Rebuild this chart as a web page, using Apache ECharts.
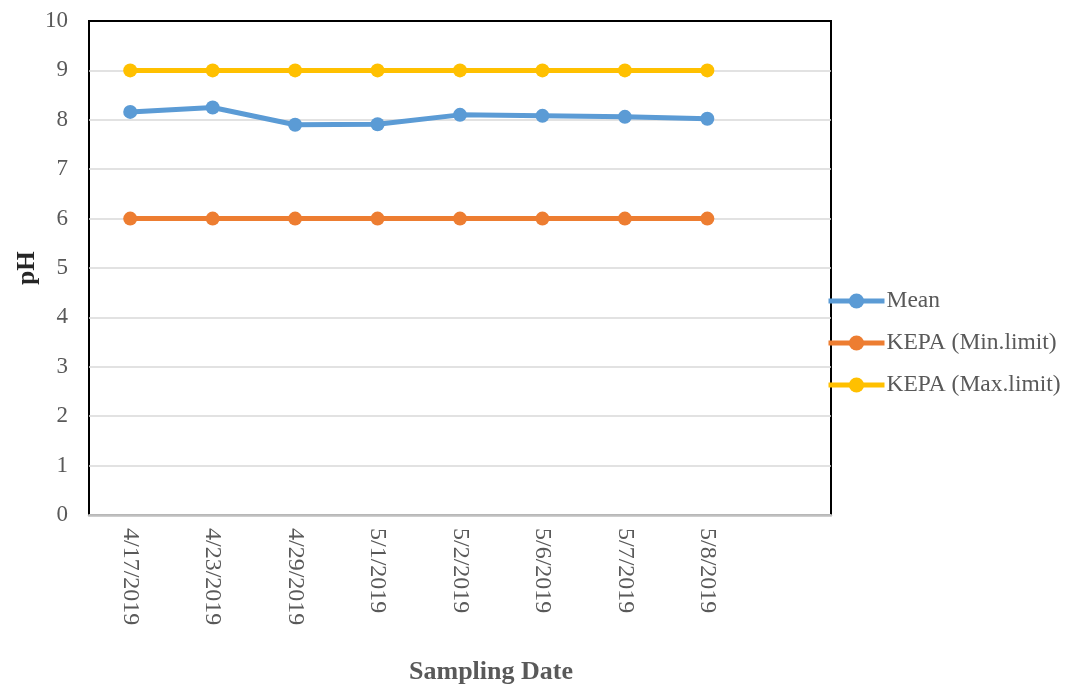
<!DOCTYPE html>
<html>
<head>
<meta charset="utf-8">
<script src="https://cdn.jsdelivr.net/npm/echarts@6/dist/echarts.min.js"></script>
<style>
  html, body { margin: 0; padding: 0; background: #fff; }
  #chart { width: 1066px; height: 684px; }
</style>
</head>
<body>
<div id="chart"></div>
<script>
// Sampling dates (an extra blank slot keeps the right margin of the plot)
const dates = ['4/17/2019', '4/23/2019', '4/29/2019', '5/1/2019', '5/2/2019', '5/6/2019', '5/7/2019', '5/8/2019', ''];
// Mean pH per sampling date
const meanPH = [8.16, 8.25, 7.90, 7.91, 8.10, 8.08, 8.06, 8.02];
// KEPA limits
const kepaMin = [6, 6, 6, 6, 6, 6, 6, 6];
const kepaMax = [9, 9, 9, 9, 9, 9, 9, 9];
const yTicks = [0, 1, 2, 3, 4, 5, 6, 7, 8, 9, 10];

const serif = '"Liberation Serif", "DejaVu Serif", serif';
const grey = '#595959';

function lineSeries(name, data, color) {
  return {
    name: name,
    type: 'line',
    data: data,
    symbol: 'circle',
    symbolSize: 14,
    lineStyle: { width: 5, color: color },
    itemStyle: { color: color },
    animation: false
  };
}

const chart = echarts.init(document.getElementById('chart'));
chart.setOption({
  backgroundColor: '#fff',
  animation: false,
  grid: {
    left: 89, right: 235, top: 21, bottom: 169,
    show: true, borderColor: '#000', borderWidth: 2, backgroundColor: 'transparent'
  },
  title: [
    {
      text: 'Sampling Date',
      left: 486, top: 654, textAlign: 'center',
      textStyle: { fontFamily: serif, fontSize: 26, fontWeight: 'bold', color: grey }
    }
  ],
  graphic: [
    {
      type: 'text',
      x: 28, y: 268, rotation: Math.PI / 2,
      style: {
        text: 'pH', fontFamily: serif, fontSize: 25, fontWeight: 'bold',
        fill: '#262626', align: 'center', verticalAlign: 'middle'
      }
    }
  ],
  legend: {
    orient: 'vertical',
    left: 821, top: 284,
    itemWidth: 56, itemHeight: 19, itemGap: 18,
    lineStyle: { width: 5 },
    textStyle: { fontFamily: serif, fontSize: 23.5, color: grey, padding: [0, 0, 0, -3] },
    data: ['Mean', 'KEPA (Min.limit)', 'KEPA (Max.limit)']
  },
  xAxis: [
    {
      type: 'category',
      data: dates,
      boundaryGap: true,
      axisLine: { show: true, lineStyle: { color: '#bfbfbf', width: 2.5 } },
      axisTick: { show: false },
      axisLabel: {
        rotate: -90, margin: 13, interval: 0,
        fontFamily: serif, fontSize: 24, color: grey
      }
    },
    {
      // top frame edge of the plot
      type: 'category',
      data: dates,
      position: 'top',
      axisLine: { show: true, lineStyle: { color: '#000', width: 2 } },
      axisTick: { show: false },
      axisLabel: { show: false },
      splitLine: { show: false }
    }
  ],
  yAxis: {
    type: 'value',
    min: yTicks[0], max: yTicks[yTicks.length - 1], interval: 1,
    axisLine: { show: false },
    axisTick: { show: false },
    splitLine: { lineStyle: { color: '#d9d9d9', width: 1.5 } },
    axisLabel: { fontFamily: serif, fontSize: 23, color: grey, margin: 21 }
  },
  series: [
    lineSeries('Mean', meanPH, '#5b9bd5'),
    lineSeries('KEPA (Min.limit)', kepaMin, '#ed7d31'),
    lineSeries('KEPA (Max.limit)', kepaMax, '#ffc000')
  ]
});
</script>
</body>
</html>
